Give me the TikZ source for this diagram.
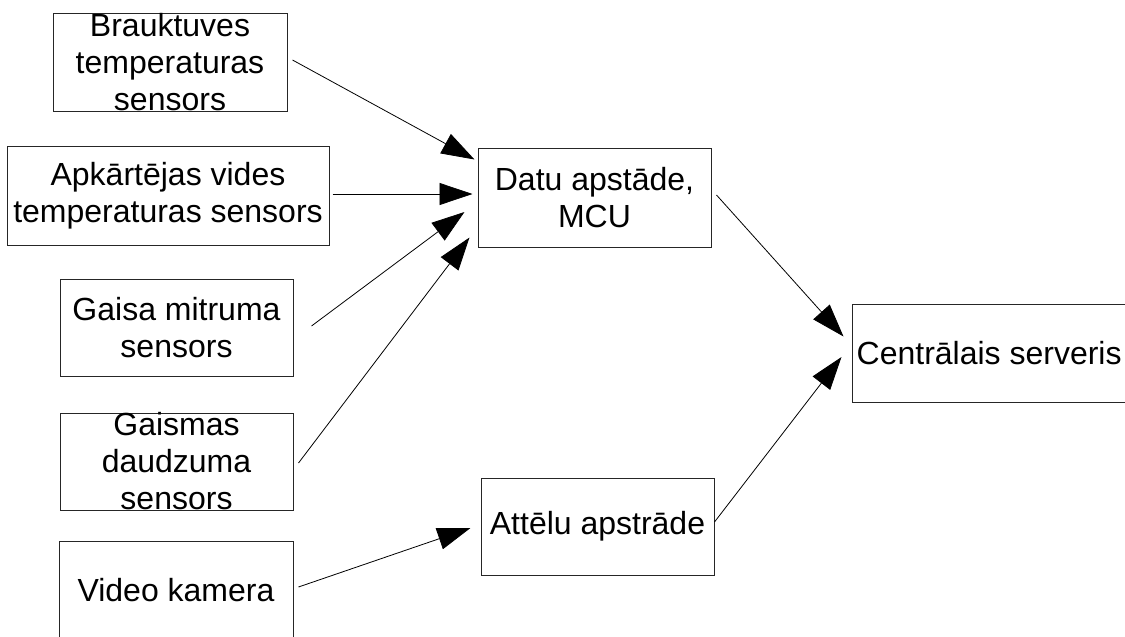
\documentclass[tikz,border=0pt]{standalone}
\usepackage{fontspec}
\setmainfont{Liberation Sans}
\usetikzlibrary{arrows.meta,calc}

\begin{document}
\begin{tikzpicture}[x=1pt,y=-1pt,
  box/.style={draw=black!85,line width=1pt,inner sep=0pt,fill=none},
  txt/.style={align=center,inner sep=0pt,font=\fontsize{32}{37}\selectfont},
  link/.style={line width=0.8pt,-{Triangle[length=33pt,width=22pt]}}]
\useasboundingbox (0,0) rectangle (1125,637);

% input boxes (left column)
\node[box,minimum width=234pt,minimum height=98pt] (b1) at (170,62) {};
\node[box,minimum width=322pt,minimum height=99pt] (b2) at (168,195.5) {};
\node[box,minimum width=233pt,minimum height=97pt] (b3) at (176.5,327.5) {};
\node[box,minimum width=233pt,minimum height=97pt] (b4) at (176.5,461.5) {};
\node[box,minimum width=234pt,minimum height=97pt] (b5) at (176,590) {};

% processing boxes
\node[box,minimum width=233pt,minimum height=99pt] (datu) at (594.5,197.5) {};
\node[box,minimum width=233pt,minimum height=97pt] (att) at (597.5,526.5) {};
\node[box,minimum width=290pt,minimum height=98pt] (cen) at (997,353) {};

% labels
\node[txt] (t1) at (b1) {Brauktuves\\temperaturas\\sensors};
\node[txt] (t2) at (b2) {Apkārtējas vides\\temperaturas sensors};
\node[txt] (t3) at (b3) {Gaisa mitruma\\sensors};
\node[txt] (t4) at (b4) {Gaismas\\daudzuma\\sensors};
\node[txt] (t5) at (b5) {Video kamera};
\node[txt] (t6) at (datu) {Datu apstāde,\\MCU};
\node[txt] (t7) at (att) {Attēlu apstrāde};
\node[txt,anchor=west] (t8) at ([xshift=5pt]cen.west) {Centrālais serveris};

% connectors (shifts are in page direction: positive yshift goes up)
\draw[link] ([xshift=5pt,yshift=2pt]b1.east) -- ([xshift=-3pt,yshift=-12pt]datu.north west);
\draw[link] ([xshift=3pt,yshift=1.5pt]b2.east) -- ([xshift=-5pt,yshift=3.5pt]datu.west);
\draw[link] ([xshift=18pt,yshift=1.5pt]b3.east) -- ([xshift=-13pt,yshift=-14.5pt]datu.west);
\draw[link] ([xshift=5pt,yshift=-1.5pt]b4.east) -- ([xshift=-8pt,yshift=10pt]datu.south west);
\draw[link] ([xshift=5pt,yshift=3pt]b5.east) -- ([xshift=-10pt,yshift=-1.5pt]att.west);
\draw[link] ([xshift=5pt,yshift=2.5pt]datu.east) -- ([xshift=-8pt,yshift=-33pt]cen.north west);
\draw[link] ([yshift=4.5pt]att.east) -- ([xshift=-10pt,yshift=-4pt]cen.west);
\end{tikzpicture}
\end{document}
